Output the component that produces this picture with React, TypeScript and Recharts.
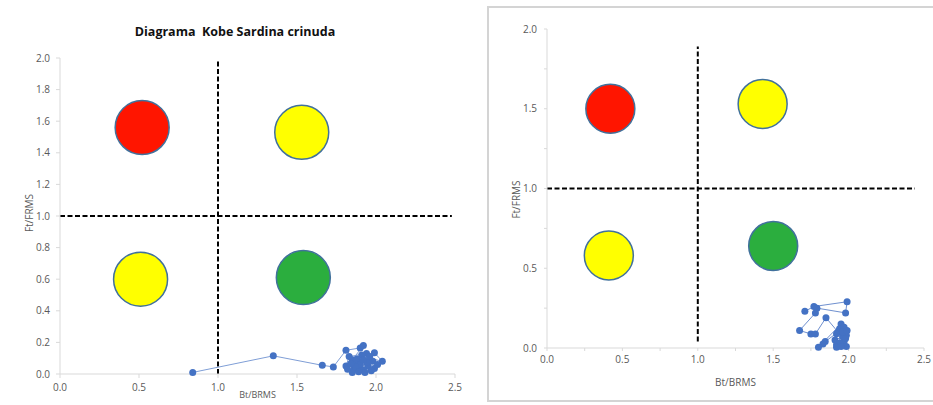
import React from 'react';
import {
    ScatterChart,
    Scatter,
    XAxis,
    YAxis,
    ReferenceLine
} from 'recharts';

// Kobe trajectory, left panel (Bt/BRMS, Ft/FRMS), in time order
const leftBt = [0.84, 1.35, 1.66, 1.73, 1.81, 1.90, 1.92, 1.85, 1.99, 2.04, 1.96, 1.88, 1.81, 1.83, 1.94, 1.91, 1.86, 1.98, 1.89, 1.95, 1.92, 2.01, 1.85, 1.99, 1.94, 1.88, 1.97, 1.82, 1.93, 1.90, 1.87, 1.96, 1.84, 1.92, 1.89];
const leftFt = [0.01, 0.115, 0.055, 0.045, 0.15, 0.165, 0.18, 0.09, 0.135, 0.08, 0.10, 0.07, 0.05, 0.11, 0.13, 0.12, 0.03, 0.08, 0.04, 0.05, 0.025, 0.06, 0.01, 0.035, 0.075, 0.095, 0.02, 0.03, 0.01, 0.06, 0.045, 0.11, 0.065, 0.09, 0.015];

// Kobe trajectory, right panel
const rightBt = [1.71, 1.77, 1.99, 1.98, 1.79, 1.78, 1.675, 1.75, 1.78, 1.85, 1.93, 1.845, 1.83, 1.80, 1.95, 1.94, 1.97, 1.92, 1.985, 1.91, 1.97, 1.92, 1.985, 1.96, 1.94, 1.98, 1.92, 1.96, 1.99, 1.95];
const rightFt = [0.23, 0.26, 0.29, 0.22, 0.25, 0.22, 0.11, 0.088, 0.088, 0.19, 0.10, 0.04, 0.025, 0.005, 0.15, 0.12, 0.13, 0.09, 0.08, 0.05, 0.04, 0.02, 0.01, 0.07, 0.03, 0.06, 0.005, 0.10, 0.11, 0.01];

// quadrant markers (centre of each coloured disc)
const leftZoneX = [0.52, 1.53, 0.51, 1.54];
const leftZoneY = [1.56, 1.53, 0.60, 0.61];
const rightZoneX = [0.42, 1.43, 0.41, 1.50];
const rightZoneY = [1.50, 1.53, 0.58, 0.64];
const zoneFill = ['#FF1500', '#FFFF00', '#FFFF00', '#2BAE3E'];

// reference limits (Bt/BRMS = 1, Ft/FRMS = 1)
const limit = 1;
const leftVLine = [0, 1.98];
const leftHLine = [0, 2.48];
const rightVLine = [0.04, 1.89];
const rightHLine = [0, 2.44];

const xTicks = [0, 0.5, 1, 1.5, 2, 2.5];
const xTicksFine = [0, 0.25, 0.5, 0.75, 1, 1.25, 1.5, 1.75, 2, 2.25, 2.5];
const leftYTicks = [0, 0.2, 0.4, 0.6, 0.8, 1, 1.2, 1.4, 1.6, 1.8, 2];
const rightYTicks = [0, 0.25, 0.5, 0.75, 1, 1.25, 1.5, 1.75, 2];

const FONT = '"Open Sans", "Noto Sans", sans-serif';
const tickStyle = { fill: '#595959', fontSize: 10, fontFamily: FONT };
const axisColor = '#d9d9d9';

const toPoints = (xs: number[], ys: number[]) => xs.map((x, i) => ({ x, y: ys[i] }));

const halfOnly = (v: number) => (Math.abs((v * 2) % 1) < 1e-6 ? v.toFixed(1) : '');

const Disc = (r: number) => (props: any) => (
    <circle
        cx={props.cx}
        cy={props.cy}
        r={r}
        fill={props.payload.fill}
        stroke="#41719C"
        strokeWidth={1.5}
    />
);

const Dot = (props: any) => (
    <circle cx={props.cx} cy={props.cy} r={3.5} fill="#4472C4" />
);

// rotated y axis title
const VTitle = ({ viewBox, text, x, shift = 0 }: any) => {
    const y = viewBox.y + viewBox.height / 2 + shift;
    return (
        <text
            x={x}
            y={y}
            transform={`rotate(-90 ${x} ${y})`}
            textAnchor="middle"
            dominantBaseline="middle"
            fill="#595959"
            fontSize={10}
            fontFamily={FONT}
        >
            {text}
        </text>
    );
};

const dash = { stroke: '#000', strokeWidth: 2, strokeDasharray: '5 2.5' };

export default function App() {
    const leftTraj = toPoints(leftBt, leftFt);
    const rightTraj = toPoints(rightBt, rightFt);
    const leftZones = leftZoneX.map((x, i) => ({ x, y: leftZoneY[i], fill: zoneFill[i] }));
    const rightZones = rightZoneX.map((x, i) => ({ x, y: rightZoneY[i], fill: zoneFill[i] }));

    return (
        <div style={{ position: 'absolute', left: 0, top: 0, width: 933, height: 405, background: '#fff', overflow: 'hidden' }}>
            <div
                style={{
                    position: 'absolute', left: 0, top: 24, width: 470,
                    textAlign: 'center', fontFamily: FONT, fontWeight: 700,
                    fontSize: 12.5, lineHeight: '16px', whiteSpace: 'pre', color: '#111'
                }}
            >
                {'Diagrama  Kobe Sardina crinuda'}
            </div>

            <div style={{ position: 'absolute', left: 0, top: 0 }}>
                <ScatterChart width={470} height={405} margin={{ top: 58, right: 15, bottom: 1, left: 0 }}>
                    <XAxis
                        type="number"
                        dataKey="x"
                        domain={[0, 2.5]}
                        ticks={xTicks}
                        tickFormatter={(v: number) => v.toFixed(1)}
                        height={30}
                        tick={tickStyle}
                        tickSize={4}
                        tickMargin={6}
                        stroke={axisColor}
                        label={{ value: 'Bt/BRMS', position: 'bottom', offset: -12, fill: '#595959', fontSize: 9, fontFamily: FONT }}
                    />
                    <YAxis
                        type="number"
                        dataKey="y"
                        domain={[0, 2]}
                        ticks={leftYTicks}
                        tickFormatter={(v: number) => v.toFixed(1)}
                        width={60}
                        tick={tickStyle}
                        tickSize={4}
                        tickMargin={6}
                        stroke={axisColor}
                        label={<VTitle text="Ft/FRMS" x={15} shift={-3} />}
                    />
                    <ReferenceLine segment={[{ x: limit, y: leftVLine[0] }, { x: limit, y: leftVLine[1] }]} {...dash} />
                    <ReferenceLine segment={[{ x: leftHLine[0], y: limit }, { x: leftHLine[1], y: limit }]} {...dash} />
                    <Scatter data={leftZones} shape={Disc(27)} isAnimationActive={false} />
                    <Scatter
                        data={leftTraj}
                        line={{ stroke: '#7F9ED6', strokeWidth: 1 }}
                        lineJointType="linear"
                        shape={Dot}
                        isAnimationActive={false}
                    />
                </ScatterChart>
            </div>

            <div
                style={{
                    position: 'absolute', left: 487, top: 6, width: 450, height: 396,
                    border: '2px solid #d4d4d4', borderRight: 'none', boxSizing: 'border-box'
                }}
            />

            <div style={{ position: 'absolute', left: 488, top: 0 }}>
                <ScatterChart width={445} height={405} margin={{ top: 29, right: 9, bottom: 7, left: 0 }}>
                    <XAxis
                        type="number"
                        dataKey="x"
                        domain={[0, 2.5]}
                        ticks={xTicksFine}
                        tickFormatter={halfOnly}
                        interval={0}
                        height={50}
                        tick={tickStyle}
                        tickSize={3}
                        tickMargin={5}
                        stroke={axisColor}
                        label={{ value: 'Bt/BRMS', position: 'insideBottom', offset: 12, fill: '#595959', fontSize: 10, fontFamily: FONT }}
                    />
                    <YAxis
                        type="number"
                        dataKey="y"
                        domain={[0, 2]}
                        ticks={rightYTicks}
                        tickFormatter={halfOnly}
                        interval={0}
                        width={59}
                        tick={tickStyle}
                        tickSize={3}
                        tickMargin={7}
                        stroke={axisColor}
                        label={<VTitle text="Ft/FRMS" x={17} shift={11} />}
                    />
                    <ReferenceLine segment={[{ x: limit, y: rightVLine[0] }, { x: limit, y: rightVLine[1] }]} {...dash} />
                    <ReferenceLine segment={[{ x: rightHLine[0], y: limit }, { x: rightHLine[1], y: limit }]} {...dash} />
                    <Scatter data={rightZones} shape={Disc(24.5)} isAnimationActive={false} />
                    <Scatter
                        data={rightTraj}
                        line={{ stroke: '#6F90CF', strokeWidth: 1 }}
                        lineJointType="linear"
                        shape={Dot}
                        isAnimationActive={false}
                    />
                </ScatterChart>
            </div>
        </div>
    );
}
